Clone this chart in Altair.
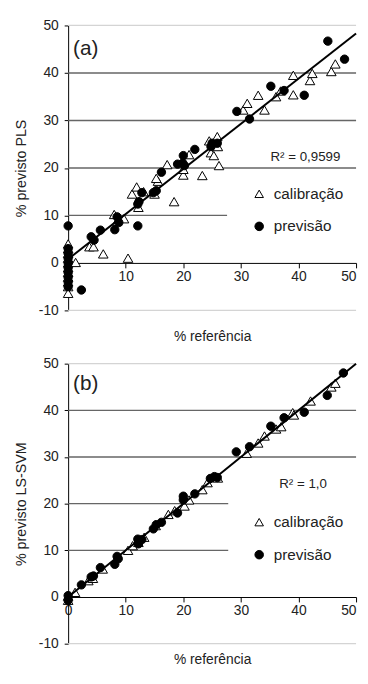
import altair as alt
import pandas as pd

FONT = "Liberation Sans"

# ---------------- panel (a): PLS ----------------
a_cal_x = [0, 0, 0, 0, 0, 0, 0, 0, 0, 0, 0,
           1.3, 3.7, 4.4, 6.1, 10.4, 8.0, 9.7, 8.5, 11.1, 11.9, 12.2, 13.1, 15.0,
           15.6, 15.3, 18.4, 17.2, 20.0, 20.0, 21.0, 23.3, 24.5, 24.8, 25.3, 25.9,
           26.2, 26.0, 30.4, 31.1, 33.0, 34.1, 36.1, 36.9, 39.1, 39.1, 42.0, 42.4,
           45.7, 46.4]
a_cal_y = [4.0, 3.0, 2.0, 1.0, 0.0, -1.0, -2.0, -3.0, -4.0, -5.0, -6.4,
           0.1, 3.4, 3.4, 1.9, 1.0, 10.2, 9.3, 8.8, 14.5, 16.0, 11.7, 15.0, 14.5,
           17.2, 17.8, 12.9, 20.7, 18.5, 19.7, 22.8, 18.4, 25.7, 23.2, 22.6, 26.6,
           20.5, 24.5, 32.2, 33.6, 35.3, 32.2, 35.0, 36.2, 39.5, 35.4, 38.4, 39.9,
           40.3, 41.9]
a_prev_x = [0, 0, 0, 0, 0, 0, 0, 0, 0, 0,
            2.3, 4.0, 4.5, 5.6, 8.1, 8.5, 8.8, 12.1, 12.1, 12.3, 12.8, 14.8, 15.3,
            16.2, 19.0, 19.9, 20.0, 20.2, 22.0, 24.8, 25.0, 25.9, 29.3, 31.5, 35.2,
            37.5, 41.0, 45.1, 48.0]
a_prev_y = [7.8, 3.0, 2.0, 1.0, 0.0, -1.0, -2.0, -3.0, -4.0, -5.0,
            -5.7, 5.5, 4.8, 6.9, 7.0, 9.7, 8.5, 7.8, 12.4, 12.9, 14.8, 14.8, 15.2,
            19.1, 20.8, 21.0, 22.6, 20.5, 23.9, 24.5, 25.2, 25.2, 31.9, 30.3, 37.2,
            36.3, 35.3, 46.7, 42.9]
a_line_x = [0, 50]
a_line_y = [0.8, 48.3]
a_r2 = "R² = 0,9599"

# ---------------- panel (b): LS-SVM ----------------
b_cal_x = [0, 0, 1.2, 3.5, 4.3, 6.0, 10.4, 11.2, 12.2, 13.2, 15.2, 17.4, 18.5,
           20.2, 21.0, 23.3, 24.2, 26.0, 31.0, 33.0, 34.1, 36.1, 37.0, 39.0, 39.2,
           42.1, 45.7, 46.4]
b_cal_y = [-0.7, 0.2, 1.0, 3.5, 4.0, 6.0, 10.0, 11.0, 11.7, 12.8, 15.3, 17.7, 18.5,
           19.5, 20.8, 23.0, 24.5, 25.5, 30.8, 33.0, 34.5, 36.0, 36.5, 39.5, 39.0,
           42.0, 45.0, 45.8]
b_prev_x = [0, 0, 2.3, 4.0, 4.4, 5.6, 8.1, 8.5, 8.7, 12.1, 12.2, 12.8, 14.8, 15.3,
            16.2, 19.0, 20.0, 20.0, 22.0, 24.7, 25.4, 25.9, 29.2, 31.5, 35.2, 37.5,
            41.0, 45.0, 47.8]
b_prev_y = [-0.7, 0.3, 2.6, 4.3, 4.5, 6.3, 7.0, 8.7, 8.2, 12.4, 11.4, 12.3, 14.6, 15.5,
            16.0, 18.0, 21.6, 20.8, 22.1, 25.4, 25.8, 25.6, 31.1, 32.2, 36.6, 38.4,
            39.6, 43.2, 48.0]
b_line_x = [0, 50]
b_line_y = [0.0, 50.0]
b_r2 = "R² = 1,0"

series = ["calibração", "previsão"]
y_ticks = [-10, 0, 10, 20, 30, 40, 50]
border_lines = [50, -10]
a_grid_y = [40, 30, 20, 10]
a_grid_end = [50, 50, 50, 27.6]
b_grid_y = [40, 30, 20, 10]
b_grid_end = [50, 50, 27.8, 27.8]

W = 292


def panel(cal_x, cal_y, prev_x, prev_y, line_x, line_y, r2, r2_pos, tag, tag_pos,
          grid_y, grid_end, ytitle, xvals, h, leg_y, tpad):
    xs = alt.Scale(domain=[0, 50], nice=False, zero=False)
    ys = alt.Scale(domain=[-10, 50], nice=False, zero=False)
    xaxis = alt.Axis(title="% referência", values=xvals, offset=-h / 6, grid=False,
                     domainColor="black", tickColor="black", tickSize=5,
                     labelFontSize=14, labelColor="#222", labelPadding=2,
                     labelAlign={"condition": {"test": "datum.value == 50", "value": "right"},
                                 "value": "center"},
                     titleFontSize=14, titleFontWeight="normal", titleColor="#222",
                     titlePadding=tpad, labelExpr="'' + datum.value")
    yaxis = alt.Axis(title=ytitle, values=y_ticks, grid=False,
                     domainColor="black", tickColor="black", tickSize=4,
                     labelFontSize=14, labelColor="#222", labelPadding=6,
                     titleFontSize=14.5, titleFontWeight="normal", titleColor="#222",
                     titlePadding=10, labelExpr="'' + datum.value")

    def X(f):
        return alt.X(f, type="quantitative", scale=xs, axis=xaxis)

    def Y(f):
        return alt.Y(f, type="quantitative", scale=ys, axis=yaxis)

    leg = alt.Legend(title=None, orient="none", legendX=186, legendY=leg_y,
                     labelFontSize=15.5, labelColor="#222", labelFont=FONT,
                     symbolSize=75, symbolStrokeWidth=1, labelOffset=7,
                     rowPadding=16, padding=0)
    shape = alt.Shape("s:N", scale=alt.Scale(domain=series, range=["triangle-up", "circle"]),
                      legend=leg)
    fill = alt.Fill("s:N", scale=alt.Scale(domain=series, range=["white", "black"]),
                    legend=leg)
    stroke = alt.Stroke("s:N", scale=alt.Scale(domain=series, range=["black", "black"]),
                        legend=leg)

    border = pd.DataFrame({"y": border_lines, "x0": [0, 0], "x1": [50, 50]})
    grid = pd.DataFrame({"y": grid_y, "x0": [0] * len(grid_y), "x1": grid_end})
    cal = pd.DataFrame({"x": cal_x, "y": cal_y, "s": [series[0]] * len(cal_x)})
    prev = pd.DataFrame({"x": prev_x, "y": prev_y, "s": [series[1]] * len(prev_x)})
    line = pd.DataFrame({"x": line_x, "y": line_y})
    txt = pd.DataFrame({"x": [r2_pos[0]], "y": [r2_pos[1]], "t": [r2]})
    tg = pd.DataFrame({"x": [tag_pos[0]], "y": [tag_pos[1]], "t": [tag]})

    l_border = alt.Chart(border).mark_rule(color="#d4d4d4", strokeWidth=1.2).encode(
        x=X("x0"), x2="x1", y=Y("y"))
    l_grid = alt.Chart(grid).mark_rule(color="#666666", strokeWidth=1.4).encode(
        x=X("x0"), x2="x1", y=Y("y"))
    l_cal = alt.Chart(cal).mark_point(strokeWidth=1, opacity=1, fillOpacity=1,
                                      size=95).encode(
        x=X("x"), y=Y("y"), shape=shape, fill=fill, stroke=stroke)
    l_prev = alt.Chart(prev).mark_point(strokeWidth=1, opacity=1, fillOpacity=1,
                                        size=72).encode(
        x=X("x"), y=Y("y"), shape=shape, fill=fill, stroke=stroke)
    l_line = alt.Chart(line).mark_line(color="black", strokeWidth=2).encode(
        x=X("x"), y=Y("y"))
    l_txt = alt.Chart(txt).mark_text(fontSize=13.5, color="#222", align="center",
                                     baseline="middle", font=FONT).encode(
        x=X("x"), y=Y("y"), text="t:N")
    l_tag = alt.Chart(tg).mark_text(fontSize=21, color="#222", align="left",
                                    baseline="middle", font=FONT).encode(
        x=X("x"), y=Y("y"), text="t:N")
    return alt.layer(l_border, l_grid, l_cal, l_prev, l_line, l_txt, l_tag).properties(
        width=W, height=h)


pa = panel(a_cal_x, a_cal_y, a_prev_x, a_prev_y, a_line_x, a_line_y, a_r2, (41.2, 22.2),
           "(a)", (0.85, 45.0), a_grid_y, a_grid_end, "% previsto PLS",
           [10, 20, 30, 40, 50], 289, 163, 47)
pb = panel(b_cal_x, b_cal_y, b_prev_x, b_prev_y, b_line_x, b_line_y, b_r2, (40.8, 24.1),
           "(b)", (0.85, 45.7), b_grid_y, b_grid_end, "% previsto LS-SVM",
           [0, 10, 20, 30, 40, 50], 284, 153, 35)

chart = alt.vconcat(pa, pb, spacing=13).resolve_scale(
    shape="independent", fill="independent", stroke="independent").resolve_legend(
    shape="independent", fill="independent", stroke="independent").properties(
    padding={"left": 5, "right": 0, "top": 6, "bottom": 0}).configure(
    font=FONT).configure_view(stroke=None).configure_axis(labelFont=FONT, titleFont=FONT)

chart.save("out.html", embed_options={"renderer": "svg", "actions": False})
